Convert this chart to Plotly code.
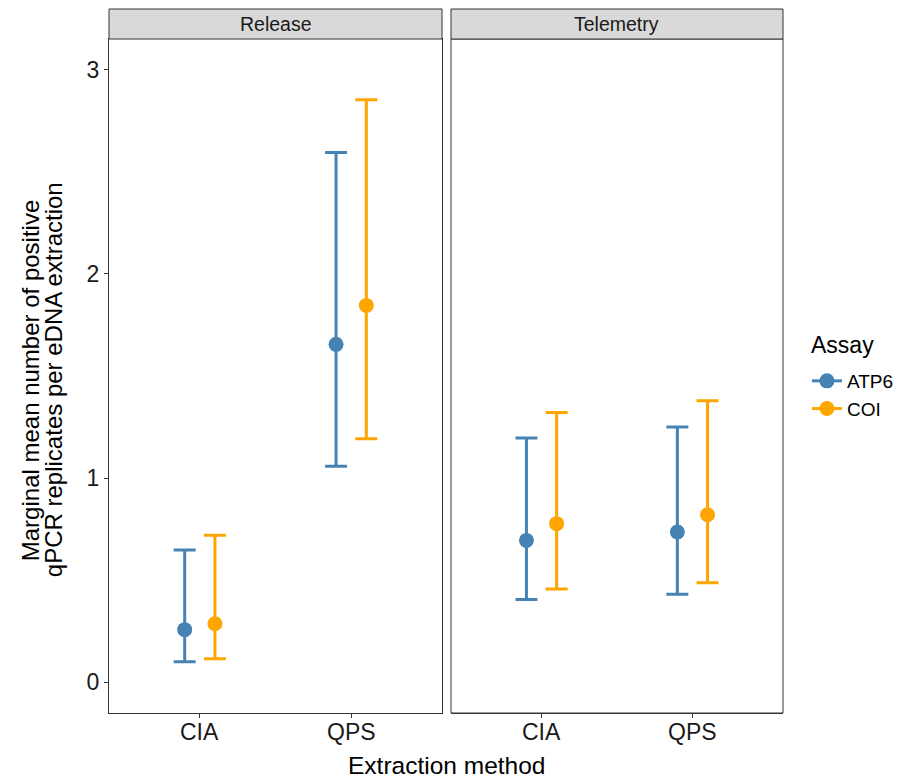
import plotly.graph_objects as go

methods = ["CIA", "QPS"]
panels = ["Release", "Telemetry"]
assays = ["ATP6", "COI"]
colors = {"ATP6": "#4682B4", "COI": "#FFA500"}

# Release
rel_atp6_mean = [0.258, 1.655]
rel_atp6_low = [0.101, 1.058]
rel_atp6_high = [0.648, 2.594]
rel_coi_mean = [0.287, 1.845]
rel_coi_low = [0.116, 1.193]
rel_coi_high = [0.720, 2.852]
# Telemetry
tel_atp6_mean = [0.695, 0.736]
tel_atp6_low = [0.406, 0.432]
tel_atp6_high = [1.196, 1.250]
tel_coi_mean = [0.777, 0.821]
tel_coi_low = [0.457, 0.488]
tel_coi_high = [1.321, 1.379]

data = {
    ("Release", "ATP6"): (rel_atp6_mean, rel_atp6_low, rel_atp6_high),
    ("Release", "COI"): (rel_coi_mean, rel_coi_low, rel_coi_high),
    ("Telemetry", "ATP6"): (tel_atp6_mean, tel_atp6_low, tel_atp6_high),
    ("Telemetry", "COI"): (tel_coi_mean, tel_coi_low, tel_coi_high),
}

FONT = "Liberation Sans, Arial, sans-serif"
dodge = {"ATP6": -0.1, "COI": 0.1}

fig = go.Figure()
for pi, panel in enumerate(panels):
    xa = "x" if pi == 0 else "x2"
    for assay in assays:
        mean, low, high = data[(panel, assay)]
        xs = [i + 1 + dodge[assay] for i in range(len(methods))]
        fig.add_trace(go.Scatter(
            x=xs, y=mean, mode="markers", xaxis=xa, yaxis="y",
            marker=dict(color=colors[assay], size=15),
            error_y=dict(type="data", symmetric=False,
                         array=[h - m for h, m in zip(high, mean)],
                         arrayminus=[m - l for m, l in zip(mean, low)],
                         color=colors[assay], thickness=3, width=11),
            showlegend=False, hoverinfo="skip"))

for assay in assays:
    fig.add_trace(go.Scatter(
        x=[None], y=[None], mode="lines+markers", name=assay,
        line=dict(color=colors[assay], width=3),
        marker=dict(color=colors[assay], size=15),
        xaxis="x", yaxis="y", showlegend=True))

# page body has an 8px offset; work in figure coordinates (screen - 8)
OFF = 8
W, H = 911 - OFF, 780 - OFF
L, R, T, B = 109 - OFF, 785 - OFF, 39 - OFF, 713 - OFF
pw = R - L
ph = B - T
d1 = (443 - 109) / pw
d2 = (452 - 109) / pw

def px(xs):
    return (xs - OFF - L) / pw

def py(ys):
    return (B - (ys - OFF)) / ph

axis_common = dict(range=[0.4, 2.6], tickvals=[1, 2], ticktext=methods,
                   showticklabels=False,
                   showgrid=False, zeroline=False, showline=True, mirror=True,
                   linecolor="#333333", linewidth=1, ticks="outside",
                   ticklen=4, tickcolor="#333333")

fig.update_layout(
    width=W, height=H,
    margin=dict(l=L, r=W - R, t=T, b=H - B),
    paper_bgcolor="white", plot_bgcolor="white",
    xaxis=dict(domain=[0, d1], anchor="y", **axis_common),
    xaxis2=dict(domain=[d2, 1], anchor="y", **axis_common),
    yaxis=dict(range=[-0.15, 3.15], tickvals=[0, 1, 2, 3], showgrid=False,
               zeroline=False, showline=True, mirror=True, linecolor="#333333",
               linewidth=1, ticks="outside", ticklen=4, tickcolor="#333333",
               tickfont=dict(family=FONT, size=23, color="#1a1a1a")),
    legend=dict(x=px(809), xanchor="left", y=py(362), yanchor="top",
                font=dict(family=FONT, size=19, color="black"),
                itemwidth=30, bgcolor="rgba(0,0,0,0)"),
    showlegend=True,
)

strip_h = 30 / ph
shapes = []
shapes.append(dict(type="rect", xref="paper", yref="paper", x0=d2, x1=1, y0=0, y1=1,
                   line=dict(color="#333333", width=1), fillcolor="rgba(0,0,0,0)", layer="above"))
for (x0, x1) in [(0, d1), (d2, 1)]:
    shapes.append(dict(type="rect", xref="paper", yref="paper", x0=x0, x1=x1,
                       y0=1, y1=1 + strip_h, line=dict(color="#333333", width=1),
                       fillcolor="#D9D9D9", layer="above"))
fig.update_layout(shapes=shapes)

annotations = []
for (x0, x1), panel in zip([(0, d1), (d2, 1)], panels):
    annotations.append(dict(text=panel, xref="paper", yref="paper", x=(x0 + x1) / 2,
                            y=1 + strip_h / 2, showarrow=False, xanchor="center",
                            yanchor="middle", font=dict(family=FONT, size=19.5, color="#1a1a1a")))
# x tick labels placed through each panel's own x scale
for xref in ["x", "x2"]:
    for i, m in enumerate(methods):
        annotations.append(dict(text=m, xref=xref, yref="paper", x=i + 1, y=py(732),
                                showarrow=False, xanchor="center", yanchor="middle",
                                font=dict(family=FONT, size=23, color="#1a1a1a")))
annotations.append(dict(text="Assay", xref="paper", yref="paper", x=px(811), y=py(345),
                        showarrow=False, xanchor="left", yanchor="middle",
                        font=dict(family=FONT, size=23, color="black")))
annotations.append(dict(text="Extraction method", xref="paper", yref="paper",
                        x=px(447), y=py(766), showarrow=False, xanchor="center",
                        yanchor="middle", font=dict(family=FONT, size=24.5, color="black")))
ytitle_lines = ["Marginal mean number of positive", "qPCR replicates per eDNA extraction"]
for xs, line in zip([30, 53], ytitle_lines):
    annotations.append(dict(text=line, xref="paper", yref="paper", x=px(xs), y=py(380),
                            textangle=-90, showarrow=False, xanchor="center", yanchor="middle",
                            font=dict(family=FONT, size=24, color="black")))
fig.update_layout(annotations=annotations)

fig.write_html("out.html")
